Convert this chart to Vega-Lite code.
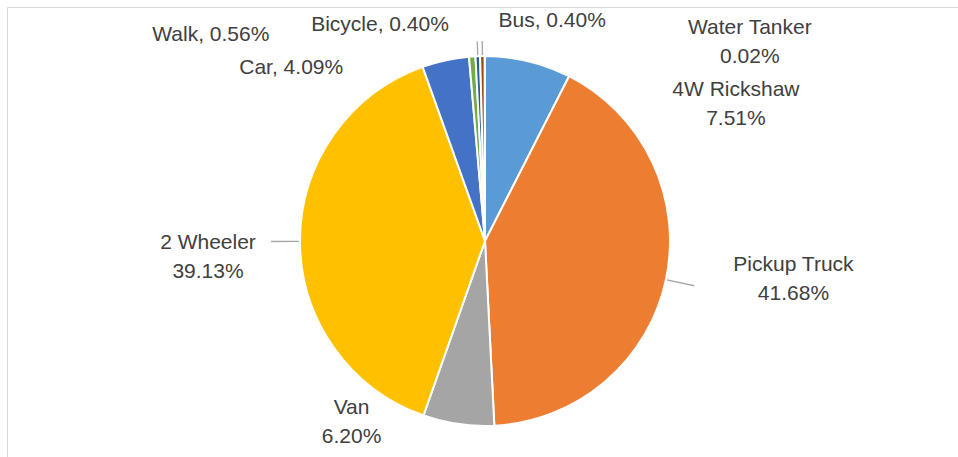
{
  "$schema": "https://vega.github.io/schema/vega-lite/v6.json",
  "width": 956,
  "height": 468,
  "autosize": {"type": "none"},
  "padding": {"left": 7, "top": 7, "right": -5, "bottom": -18},
  "background": "white",
  "view": {"stroke": "#d9d9d9", "strokeWidth": 1, "fill": "white"},
  "config": {
    "view": {"stroke": "#d9d9d9", "strokeWidth": 1},
    "text": {"font": "Liberation Sans", "fontSize": 21, "color": "#404040", "lineBreak": "\n", "lineHeight": 29}
  },
  "data": {
    "values": [
      {"n": 1, "mode": "4W Rickshaw", "pct": 7.51, "label": "4W Rickshaw\n7.51%"},
      {"n": 2, "mode": "Pickup Truck", "pct": 41.68, "label": "Pickup Truck\n41.68%"},
      {"n": 3, "mode": "Van", "pct": 6.20, "label": "Van\n6.20%"},
      {"n": 4, "mode": "2 Wheeler", "pct": 39.13, "label": "2 Wheeler\n39.13%"},
      {"n": 5, "mode": "Car", "pct": 4.09, "label": "Car, 4.09%"},
      {"n": 6, "mode": "Walk", "pct": 0.56, "label": "Walk, 0.56%"},
      {"n": 7, "mode": "Bicycle", "pct": 0.40, "label": "Bicycle, 0.40%"},
      {"n": 8, "mode": "Bus", "pct": 0.40, "label": "Bus, 0.40%"},
      {"n": 9, "mode": "Water Tanker", "pct": 0.02, "label": "Water Tanker\n0.02%"}
    ]
  },
  "encoding": {
    "theta": {"field": "pct", "type": "quantitative", "stack": true},
    "order": {"field": "n", "type": "quantitative"}
  },
  "layer": [
    {
      "mark": {"type": "arc", "radius": 185, "stroke": "white", "strokeWidth": 2},
      "encoding": {
        "color": {
          "field": "mode",
          "type": "nominal",
          "scale": {
            "domain": ["4W Rickshaw", "Pickup Truck", "Van", "2 Wheeler", "Car", "Walk", "Bicycle", "Bus", "Water Tanker"],
            "range": ["#5B9BD5", "#ED7D31", "#A5A5A5", "#FFC000", "#4472C4", "#70AD47", "#255E91", "#9E480E", "#636363"]
          },
          "legend": null
        }
      }
    },
    {
      "mark": {"type": "arc", "radius": 186, "radius2": 214, "padAngle": 3, "fill": "transparent", "stroke": "#a6a6a6", "strokeWidth": 1.3},
      "encoding": {
        "strokeOpacity": {"condition": {"test": "datum.mode === '2 Wheeler' || datum.mode === 'Pickup Truck'", "value": 1}, "value": 0}
      }
    },
    {
      "mark": {"type": "arc", "radius": 186, "radius2": 200, "padAngle": 3, "fill": "transparent", "stroke": "#a6a6a6", "strokeWidth": 1.3},
      "encoding": {
        "strokeOpacity": {"condition": {"test": "datum.mode === 'Bicycle' || datum.mode === 'Bus'", "value": 1}, "value": 0}
      }
    },
    {
      "mark": {"type": "text", "radius": 205, "dx": 203, "dy": 48},
      "encoding": {"text": {"condition": {"test": "datum.mode === '4W Rickshaw'", "field": "label", "type": "nominal"}, "value": ""}}
    },
    {
      "mark": {"type": "text", "radius": 205, "dx": 108, "dy": -19},
      "encoding": {"text": {"condition": {"test": "datum.mode === 'Pickup Truck'", "field": "label", "type": "nominal"}, "value": ""}}
    },
    {
      "mark": {"type": "text", "radius": 205, "dx": -104, "dy": -36},
      "encoding": {"text": {"condition": {"test": "datum.mode === 'Van'", "field": "label", "type": "nominal"}, "value": ""}}
    },
    {
      "mark": {"type": "text", "radius": 205, "dx": -72, "dy": 2},
      "encoding": {"text": {"condition": {"test": "datum.mode === '2 Wheeler'", "field": "label", "type": "nominal"}, "value": ""}}
    },
    {
      "mark": {"type": "text", "radius": 205, "dx": -150, "dy": 27},
      "encoding": {"text": {"condition": {"test": "datum.mode === 'Car'", "field": "label", "type": "nominal"}, "value": ""}}
    },
    {
      "mark": {"type": "text", "radius": 205, "dx": -260, "dy": -1},
      "encoding": {"text": {"condition": {"test": "datum.mode === 'Walk'", "field": "label", "type": "nominal"}, "value": ""}}
    },
    {
      "mark": {"type": "text", "radius": 205, "dx": -97, "dy": -11},
      "encoding": {"text": {"condition": {"test": "datum.mode === 'Bicycle'", "field": "label", "type": "nominal"}, "value": ""}}
    },
    {
      "mark": {"type": "text", "radius": 205, "dx": 70, "dy": -15},
      "encoding": {"text": {"condition": {"test": "datum.mode === 'Bus'", "field": "label", "type": "nominal"}, "value": ""}}
    },
    {
      "mark": {"type": "text", "radius": 205, "dx": 265, "dy": -8},
      "encoding": {"text": {"condition": {"test": "datum.mode === 'Water Tanker'", "field": "label", "type": "nominal"}, "value": ""}}
    }
  ]
}
